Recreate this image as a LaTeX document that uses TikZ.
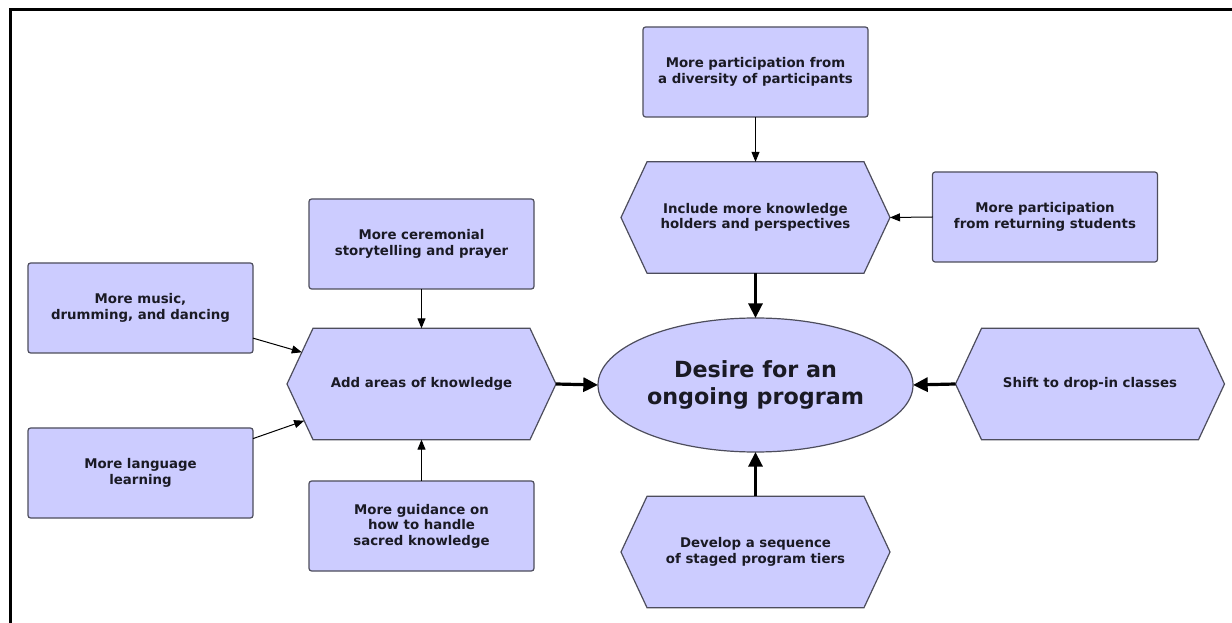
\documentclass[tikz,border=0pt]{standalone}
\usepackage{fontspec}
\setmainfont{DejaVu Sans}
\usetikzlibrary{arrows.meta,shapes.geometric,backgrounds,calc}
\definecolor{boxfill}{HTML}{CCCCFF}
\definecolor{boxline}{HTML}{4D4D5C}
\definecolor{txt}{HTML}{1A1A24}
\tikzset{
  rbox/.style={draw=boxline, fill=boxfill, line width=0.9pt, rounded corners=2pt,
    minimum width=168.75pt, minimum height=67.5pt, inner sep=0pt, outer sep=0pt,
    align=center, font=\bfseries\fontsize{10}{11.7}\selectfont, text=txt},
  hexbox/.style={inner sep=0pt, outer sep=0pt, minimum width=201.75pt, minimum height=83.5pt,
    align=center, font=\bfseries\fontsize{10}{11.7}\selectfont, text=txt},
  hexdraw/.style={draw=boxline, fill=boxfill, line width=0.9pt, line join=miter},
  ellbox/.style={ellipse, draw=boxline, fill=boxfill, line width=0.9pt, inner sep=0pt, outer sep=0pt,
    minimum width=236.25pt, minimum height=100.5pt, align=center,
    font=\bfseries\fontsize{16.7}{20.8}\selectfont, text=txt},
  thinarrow/.style={-{Triangle[length=7.5pt,width=6pt]}, line width=0.75pt, draw=black},
  thickarrow/.style={-{Triangle[length=11pt,width=10.5pt]}, line width=2.4pt, draw=black},
}
\newcommand\hexoutline[1]{%
  \draw[hexdraw] (#1.west) -- ([xshift=19.5pt]#1.north west) -- ([xshift=-19.5pt]#1.north east)
    -- (#1.east) -- ([xshift=-19.5pt]#1.south east) -- ([xshift=19.5pt]#1.south west) -- cycle;}
\begin{document}
\begin{tikzpicture}[x=0.75pt,y=-0.75pt]
\useasboundingbox (0,0) rectangle (1232,623);

\node[rbox] (b1) at (755.5,72) {More participation from\\a diversity of participants};
\node[hexbox] (h2) at (755.5,217.5) {Include more knowledge\\holders and perspectives};
\node[ellbox] (el) at (755.5,385) {Desire for an\\ongoing program};
\node[rbox] (b4) at (1045,217) {More participation\\from returning students};
\node[hexbox] (h5) at (1090,384) {Shift to drop-in classes};
\node[hexbox] (h6) at (755.5,552) {Develop a sequence\\of staged program tiers};
\node[hexbox] (h7) at (421.5,384) {Add areas of knowledge};
\node[rbox] (b8) at (421.5,244) {More ceremonial\\storytelling and prayer};
\node[rbox] (b9) at (421.5,526) {More guidance on\\how to handle\\sacred knowledge};
\node[rbox] (b10) at (140.5,308) {More music,\\drumming, and dancing};
\node[rbox] (b11) at (140.5,473) {More language\\learning};

\begin{scope}[on background layer]
  \fill[white] (0,0) rectangle (1232,623);
  \hexoutline{h2}
  \hexoutline{h5}
  \hexoutline{h6}
  \hexoutline{h7}
\end{scope}
\draw[line width=2pt, black] (10.7,623) -- (10.7,9.7) -- (1232,9.7);

\coordinate (h7a) at ($(h7.west)!0.57!([xshift=19.5pt]h7.north west)$);
\coordinate (h7b) at ($(h7.west)!0.66!([xshift=19.5pt]h7.south west)$);

\draw[thinarrow] (b1.south) -- (h2.north);
\draw[thinarrow] (b4.west) -- (h2.east);
\draw[thinarrow] (b8.south) -- (h7.north);
\draw[thinarrow] (b9.north) -- (h7.south);
\draw[thinarrow] (b10.-15.4) -- (h7a);
\draw[thinarrow] (b11.17.3) -- (h7b);

\draw[thickarrow] (h2.south) -- (el.north);
\draw[thickarrow] (h5.west) -- (el.east);
\draw[thickarrow] (h6.north) -- (el.south);
\draw[thickarrow] (h7.east) -- (el.west);
\end{tikzpicture}
\end{document}
